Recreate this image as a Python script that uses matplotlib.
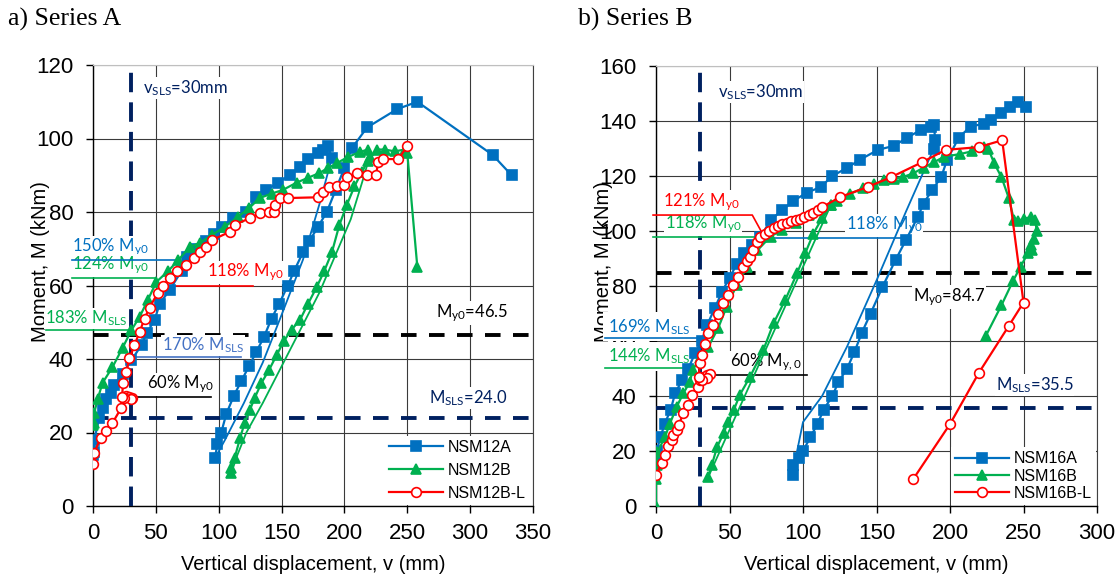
import matplotlib
matplotlib.use('Agg')
import matplotlib.pyplot as plt

plt.rcParams['font.family'] = ['Liberation Sans', 'DejaVu Sans']
plt.rcParams['mathtext.default'] = 'regular'

BLUE = '#0070C0'
GREEN = '#00B050'
RED = '#FF0000'
NAVY = '#002060'
BLUE2 = '#4472C4'

# ---------------- Series A data ----------------
a_12a_x = [0, 1, 1, 5, 7.6, 10.5, 14.6, 17, 23.5, 30.6, 38.6, 42.6, 49, 53, 61, 70.5, 75, 82, 90, 96,
           103, 111, 122, 130, 138, 147, 156.6, 164.6, 171, 179, 183, 187, 190]
a_12a_y = [14, 14.7, 18, 24, 26.7, 29, 30.7, 33, 36, 39.7, 43.8, 47, 50.6, 55, 58.8, 64, 67.7, 70, 72, 74,
           76, 78.4, 80, 84, 86, 88, 90, 92.3, 94.4, 96, 97, 98, 94.7]
a_12a_unload_x = [190, 180, 167, 150, 135, 120, 105, 97]
a_12a_unload_y = [94.7, 82, 67, 52, 39, 28, 18, 13]
a_12a_reload_x = [97, 99, 102, 106, 112, 118, 124, 130, 136, 142, 148, 155, 160, 167, 172, 179, 186, 193,
                  200, 206, 218, 242, 258, 318, 333]
a_12a_reload_y = [13, 17, 20, 25, 30, 34, 38, 42, 46, 51, 55, 60, 64, 69, 72, 76, 80, 86,
                  92, 97.4, 103, 108, 110, 95.5, 90]

a_12b_x = [0, 1, 1, 3.6, 7.6, 15.5, 23.5, 30.6, 37, 43.5, 50.5, 60, 68, 77, 85, 94.5, 105, 115, 124,
           132.6, 142, 151, 162, 171, 180, 187, 194, 203, 212, 218.5, 220]
a_12b_y = [22, 22.6, 25.3, 29, 33.5, 37.8, 43, 47.9, 51.4, 56, 61, 64, 67, 70.5, 71.6, 73.7, 76, 78.6, 81,
           83.8, 85, 86, 88, 89.3, 90.6, 92, 93.3, 95, 96.3, 97, 95]
a_12b_unload_x = [220, 214, 205, 195, 180, 165, 150, 135, 122, 115, 110]
a_12b_unload_y = [95, 88, 78, 70, 58, 48, 38, 28, 20, 14, 9]
a_12b_reload_x = [110, 110, 112.6, 117, 120.6, 124.6, 128.6, 134, 140, 146, 152, 158, 164.6, 171, 178,
                  184, 190, 196, 202, 208, 214, 219, 226, 232, 240, 248, 250, 258]
a_12b_reload_y = [9, 10.3, 13, 18.5, 22.6, 26, 29.4, 33.5, 37, 41, 45, 48, 50.6, 55, 59.6,
                  64, 69, 76.5, 82, 87, 91, 94, 97, 97, 96.5, 97, 96, 65]

a_12bl_x = [0, 1, 6, 10, 15.5, 22.5, 23.5, 26, 29, 31, 30, 25, 23, 24, 26.5, 29, 33, 37, 41, 45, 51.5,
            56, 61, 67, 74, 80, 85, 90, 95, 108.7, 112.6, 124.6, 132.5, 140, 144, 145, 148.5, 155,
            179, 183, 188, 194, 200, 202, 210, 218, 225, 227, 231, 243, 250]
a_12bl_y = [11.5, 14.5, 18.5, 20.5, 22.6, 26.7, 29.6, 29.8, 29.6, 29.4, 29, 29.5, 29.7, 33.4, 36.5, 40.2,
            43.8, 47.3, 51, 54, 58, 60, 62, 64, 65.6, 67.5, 69, 70.5, 72.4, 74.6, 76.5, 78.3, 79.7, 80,
            80, 82, 83.8, 83.8, 84, 85.5, 86.8, 87, 87.4, 89.5, 90.6, 90, 90, 93.6, 94.4, 94.4, 98]

# ---------------- Series B data ----------------
b_16a_x = [0, 0.5, 3, 6, 10, 13, 18, 22, 26.6, 31, 34.8, 40, 45, 50, 55, 60, 65, 71, 78, 86, 93.4, 103,
           112, 120, 130, 139, 151, 162, 171, 180, 187, 189, 190, 189]
b_16a_y = [16, 20, 25, 30, 35, 41, 46, 50, 55.6, 60, 65.8, 72, 78, 83, 88, 92, 95, 97.8, 104, 107.6, 111,
           114, 116, 120, 123, 126, 129.5, 131, 134, 136.7, 138, 138.5, 133, 130]
b_16a_unload_x = [189, 170, 150, 130, 113, 100, 96, 93.4]
b_16a_unload_y = [130, 107, 82, 58, 40, 30.5, 20, 11.3]
b_16a_reload_x = [93.4, 93.4, 97, 100, 105, 110, 114, 120, 124, 130, 135, 140, 146, 154, 163, 170, 178,
                  182, 188, 194, 198, 206, 214, 223, 228, 235, 241, 246, 252]
b_16a_reload_y = [11.3, 15, 17.5, 20, 25, 30, 35, 40, 45, 50, 56, 63, 70, 79.6, 89.5, 96.7, 105,
                  110, 115, 119.6, 125.8, 134, 138, 139, 140.4, 143, 145, 147, 145]

b_16b_x = [0, 0, 0.5, 1, 6, 9.5, 14, 18.6, 23, 25, 30, 35.5, 42.3, 48, 55, 62, 69, 78, 86, 95, 104,
           112, 119]
b_16b_y = [0, 10, 15, 19.6, 25, 30, 36, 41, 45, 49.5, 54, 57.8, 64.7, 72.4, 80.4, 87, 93, 98, 100.5,
           103, 106, 108, 109.5]
b_16b_unload_x = [119, 35.5]
b_16b_unload_y = [109.5, 10.5]
b_16b_reload_x = [35.5, 38, 41.6, 46, 49, 53, 57, 64, 73, 80, 88, 96, 101.6, 107, 113, 119, 123, 132,
                  141, 148, 155, 162, 168, 175, 182, 189, 196, 207, 215, 223, 226, 230, 235, 240, 243.5,
                  246, 250, 255, 258, 259, 257, 255, 256, 253, 248, 243, 235, 224.5]
b_16b_reload_y = [10.5, 15, 21.5, 26.5, 30.5, 35, 40.4, 47, 56.7, 66.5, 75, 84.7, 92, 99, 104.7, 109.5,
                  111, 113.5, 115.6, 117, 118.5, 119, 119.6, 121, 123, 125, 127, 128, 129, 130.5, 130,
                  124.7, 119.6, 112, 104, 103.5, 104.5, 105, 104, 100, 97, 95, 93, 92, 87, 82, 73, 62]

b_16bl_x = [0, 4, 6, 8, 11, 11.6, 14, 15.7, 18.4, 21.8, 24.5, 28.6, 30, 32, 35, 37, 35, 31, 29, 30, 31,
            33.4, 35.5, 39, 42, 45.7, 49, 52.5, 56, 59.3, 62, 64, 66, 69, 71, 74, 77, 80, 83, 86, 89,
            92, 95, 98, 101, 104, 107, 110, 113, 125.5, 144, 160, 181, 197, 219.6, 235.5, 250, 240,
            219.6, 200, 175]
b_16bl_y = [11.3, 15.6, 18.5, 22, 24, 25.8, 27.6, 29.5, 33.8, 36.7, 40.4, 43.3, 46, 47, 47.5, 48, 46.5,
            46, 47, 52, 55, 59, 63, 66, 70, 73.8, 76.7, 80.4, 83.3, 87, 89, 90.5, 93, 96, 97.8, 99,
            100, 101, 102, 102.5, 103, 103.5, 104, 104.5, 105, 106, 106.5, 107.5, 108.7, 112.4, 116,
            119.6, 125, 129.5, 130.5, 133, 74, 65.5, 48.4, 29.8, 9.8]

A_labels = ['NSM12A', 'NSM12B', 'NSM12B-L']
B_labels = ['NSM16A', 'NSM16B', 'NSM16B-L']
A_xticks = [0, 50, 100, 150, 200, 250, 300, 350]
A_yticks = [0, 20, 40, 60, 80, 100, 120]
B_xticks = [0, 50, 100, 150, 200, 250, 300]
B_yticks = [0, 20, 40, 60, 80, 100, 120, 140, 160]
A_My0, A_MSLS, vSLS = 46.5, 24.0, 30
B_My0, B_MSLS = 84.7, 35.5

W, H = 1117, 581
fig = plt.figure(figsize=(W / 100, H / 100), dpi=100)
axA = fig.add_axes([93 / W, 75 / H, 440 / W, 441 / H])
axB = fig.add_axes([656 / W, 75 / H, 441 / W, 440 / H])

ANN = ['Lato', 'DejaVu Sans']
afs = 12


def style_ax(ax, xt, yt, ylx):
    ax.set_xlim(xt[0], xt[-1])
    ax.set_ylim(yt[0], yt[-1])
    ax.set_xticks(xt)
    ax.set_yticks(yt)
    ax.grid(True, color='#3a3a3a', lw=0.8, zorder=0)
    ax.set_axisbelow(True)
    ax.tick_params(labelsize=16, direction='out', length=5, width=1)
    ax.tick_params(axis='y', pad=9)
    ax.tick_params(axis='x', pad=7)
    for s in ['left', 'bottom']:
        ax.spines[s].set_color('black')
        ax.spines[s].set_linewidth(1.0)
    ax.spines['top'].set_color('#bfbfbf')
    ax.spines['right'].set_color('#404040')
    ax.set_xlabel('Vertical displacement, v (mm)', fontsize=14.5)
    ax.xaxis.set_label_coords(0.5, -0.112)
    ax.set_ylabel('Moment, M (kNm)', fontsize=14.5)
    ax.yaxis.set_label_coords(ylx, 0.555)


def series(ax, x, y, ux, uy, rx, ry, color, marker, label, mfc=None, ms=6.5):
    kw = dict(color=color, lw=1.6, marker=marker, ms=ms, mec=color,
              mfc=mfc if mfc else color, mew=1.2, zorder=4)
    h, = ax.plot(x, y, label=label, **kw)
    if ux is not None:
        ax.plot(ux, uy, color=color, lw=1.3, zorder=4)
    if rx is not None:
        ax.plot(rx, ry, **kw)
    return h


def refline_h(ax, y, color):
    ax.axhline(y, color=color, lw=2.8, dashes=(4.0, 3.2), zorder=3)


def refline_v(ax, x, color):
    ax.axvline(x, color=color, lw=2.8, dashes=(5.0, 2.6), zorder=3)


def note(ax, x, y, s, color, ha='left', va='bottom', fs=afs, pad=0.6):
    ax.text(x, y, s, color=color, fontsize=fs, family=ANN, ha=ha, va=va, zorder=3.5,
            clip_on=False, bbox=dict(facecolor='white', edgecolor='none', pad=pad))


def leader(ax, xs, ys, color):
    ax.plot(xs, ys, color=color, lw=1.2, clip_on=False, zorder=3.6)


# ---------------- Panel A ----------------
style_ax(axA, A_xticks, A_yticks, -0.098)
refline_h(axA, A_My0, 'black')
refline_h(axA, A_MSLS, NAVY)
refline_v(axA, vSLS, NAVY)
hA = [series(axA, a_12a_x, a_12a_y, a_12a_unload_x, a_12a_unload_y, a_12a_reload_x, a_12a_reload_y,
             BLUE, 's', A_labels[0]),
      series(axA, a_12b_x, a_12b_y, a_12b_unload_x, a_12b_unload_y, a_12b_reload_x, a_12b_reload_y,
             GREEN, '^', A_labels[1], ms=7),
      series(axA, a_12bl_x, a_12bl_y, None, None, None, None, RED, 'o', A_labels[2], mfc='white', ms=7)]

note(axA, 39.4, 113.7, r'v$_{SLS}$=30mm', NAVY, va='center')
note(axA, 273, 52.5, r'M$_{y0}$=46.5', 'black', va='center')
note(axA, 267, 29.4, r'M$_{SLS}$=24.0', NAVY, va='center')
note(axA, -17, 67.4, r'150% M$_{y0}$', BLUE)
leader(axA, [-17, 66.5], [66.9, 66.9], BLUE)
note(axA, -17, 62.5, r'124% M$_{y0}$', GREEN)
leader(axA, [-17, 49], [62, 62], GREEN)
note(axA, 90.4, 60.6, r'118% M$_{y0}$', RED)
leader(axA, [58.5, 127], [60, 60], RED)
note(axA, -38, 48.4, r'183% M$_{SLS}$', GREEN)
leader(axA, [-37, 30.7], [47.9, 47.9], GREEN)
note(axA, 54.5, 41.0, r'170% M$_{SLS}$', BLUE2)
leader(axA, [29, 118], [40.5, 40.5], BLUE2)
note(axA, 42.6, 30.2, r'60% M$_{y0}$', 'black')
leader(axA, [30.6, 94], [29.7, 29.7], 'black')

legA = axA.legend(handles=hA, loc='lower right', bbox_to_anchor=(1.0, -0.005), fontsize=11.5,
                  frameon=True, fancybox=False, edgecolor='none', facecolor='white', framealpha=1,
                  handlelength=3.4, labelspacing=0.5, borderpad=0.25, handletextpad=0.3,
                  borderaxespad=0.2)
legA.set_zorder(6)

# ---------------- Panel B ----------------
style_ax(axB, B_xticks, B_yticks, -0.0975)
refline_h(axB, B_My0, 'black')
refline_h(axB, B_MSLS, NAVY)
refline_v(axB, vSLS, NAVY)
hB = [series(axB, b_16a_x, b_16a_y, b_16a_unload_x, b_16a_unload_y, b_16a_reload_x, b_16a_reload_y,
             BLUE, 's', B_labels[0]),
      series(axB, b_16b_x, b_16b_y, b_16b_unload_x, b_16b_unload_y, b_16b_reload_x, b_16b_reload_y,
             GREEN, '^', B_labels[1], ms=7),
      series(axB, b_16bl_x, b_16bl_y, None, None, None, None, RED, 'o', B_labels[2], mfc='white', ms=7)]

note(axB, 42.3, 150.5, r'v$_{SLS}$=30mm', NAVY, va='center')
note(axB, 174.6, 76, r'M$_{y0}$=84.7', 'black', va='center')
note(axB, 231, 44, r'M$_{SLS}$=35.5', NAVY, va='center')
note(axB, 4.8, 106.6, r'121% M$_{y0}$', RED)
leader(axB, [-2, 65.5, 73], [105.8, 105.8, 98.5], RED)
note(axB, 6, 98.5, r'118% M$_{y0}$', GREEN)
leader(axB, [-2, 73], [97.8, 97.8], GREEN)
note(axB, 129, 98.2, r'118% M$_{y0}$', BLUE)
leader(axB, [73, 173], [97.5, 97.5], BLUE)
note(axB, -32.7, 61.6, r'169% M$_{SLS}$', BLUE, pad=3.5)
leader(axB, [-35, 28.6], [61, 61], BLUE)
note(axB, -32.7, 50.8, r'144% M$_{SLS}$', GREEN, pad=3.5)
leader(axB, [-35, 25.2], [50.2, 50.2], GREEN)
note(axB, 50.5, 48.3, r'60% M$_{y,0}$', 'black')
leader(axB, [36.8, 103], [47.6, 47.6], 'black')

legB = axB.legend(handles=hB, loc='lower right', bbox_to_anchor=(1.005, -0.005), fontsize=11.5,
                  frameon=True, fancybox=False, edgecolor='none', facecolor='white', framealpha=1,
                  handlelength=3.4, labelspacing=0.15, borderpad=0.25, handletextpad=0.3,
                  borderaxespad=0.2)
legB.set_zorder(6)

fig.text(8 / W, 1 - 19 / H, 'a) Series A', family=['Liberation Serif', 'DejaVu Serif'], fontsize=18.5,
         va='center', ha='left')
fig.text(578 / W, 1 - 19 / H, 'b) Series B', family=['Liberation Serif', 'DejaVu Serif'], fontsize=18.5,
         va='center', ha='left')

fig.savefig('out.png', dpi=100)
